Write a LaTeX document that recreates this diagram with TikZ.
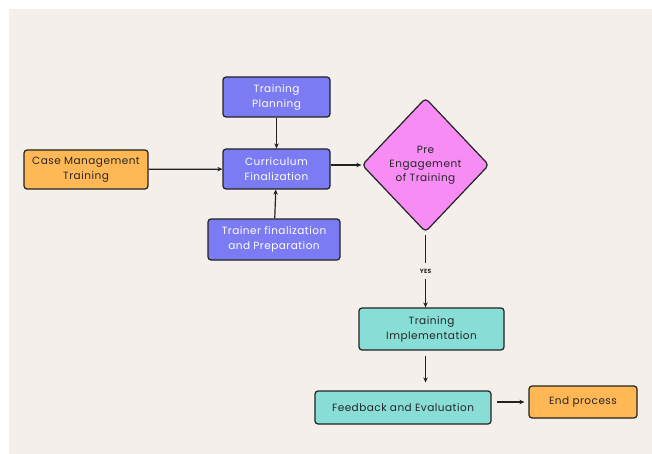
\documentclass[tikz,border=0pt]{standalone}
\usepackage{fontspec}
\setmainfont{Poppins}[LetterSpace=4.5]
\usetikzlibrary{shapes.geometric,arrows.meta}
\definecolor{bgc}{HTML}{F4EFEB}
\definecolor{bluec}{HTML}{7B7BF4}
\definecolor{orangec}{HTML}{FFB855}
\definecolor{tealc}{HTML}{88DDD6}
\definecolor{pinkc}{HTML}{F78CF5}
\definecolor{linec}{HTML}{222222}
\tikzset{
  box/.style={draw=linec, line width=1.2pt, rounded corners=3pt, align=center, inner sep=0pt, font=\fontsize{10.5}{15}\selectfont},
  bluebox/.style={box, fill=bluec, text=white},
  orangebox/.style={box, fill=orangec, text=black!85},
  tealbox/.style={box, fill=tealc, text=black!85},
  conn/.style={draw=linec, line width=1.2pt, -{Stealth[length=5pt,width=4.5pt]}},
}
\begin{document}
\begin{tikzpicture}[x=1pt,y=-1pt]
\useasboundingbox (0,0) rectangle (652,454);
\fill[bgc] (8.5,9) rectangle (652,454);

\node[bluebox, minimum width=107pt, minimum height=40pt] (plan) at (276.5,97) {Training\\Planning};
\node[bluebox, minimum width=107pt, minimum height=40pt] (cur) at (276.5,169) {Curriculum\\Finalization};
\node[bluebox, minimum width=132pt, minimum height=41pt] (trainer) at (274,239.5) {Trainer finalization\\and Preparation};
\node[orangebox, minimum width=124pt, minimum height=39pt] (case) at (86,169.5) {Case Management\\Training};
\node[draw=linec, line width=1.2pt, fill=pinkc, diamond, rounded corners=4pt, inner sep=0pt, minimum width=127pt, minimum height=134pt, align=center, text=black!85, font=\fontsize{10.5}{14}\selectfont] (dia) at (425.5,165) {Pre\\Engagement\\of Training};
\node[tealbox, minimum width=145pt, minimum height=42pt] (impl) at (431.5,329) {Training\\Implementation};
\node[tealbox, minimum width=176pt, minimum height=33pt] (feed) at (403,407.5) {Feedback and Evaluation};
\node[orangebox, minimum width=108pt, minimum height=32pt] (endp) at (583,402) {End process};

\draw[conn] (plan) -- (cur);
\draw[conn] (trainer) -- (cur);
\draw[conn] (case) -- (cur);
\draw[conn] (cur.east |- dia.west) -- (dia.west);
\draw[conn] ([yshift=-2pt]dia.south) -- node[fill=bgc, inner sep=1pt, minimum height=16pt, text=black!85, font=\fontsize{6}{7}\selectfont\bfseries] (yes) {YES} (impl.north -| dia.south);
\draw[conn, shorten <=5pt, shorten >=8pt] (impl.south -| dia.south) -- (feed.north -| dia.south);
\draw[conn, shorten <=5pt, shorten >=4pt] (feed.east |- endp.west) -- (endp.west);
\end{tikzpicture}
\end{document}
